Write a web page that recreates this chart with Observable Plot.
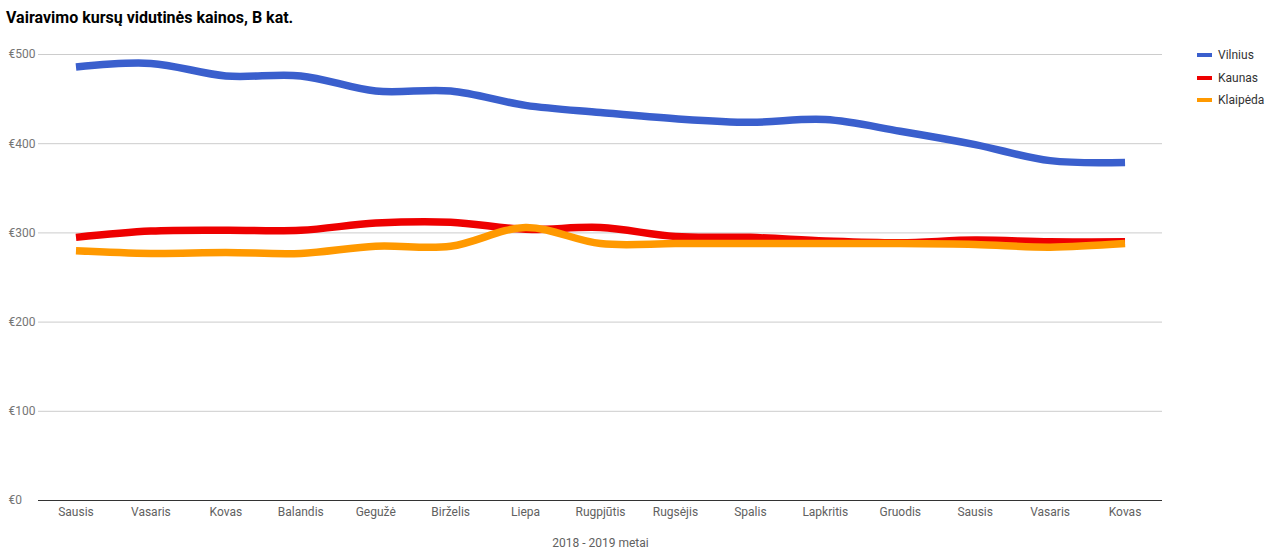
<!DOCTYPE html>
<html>
<head>
<meta charset="utf-8">
<script src="https://cdn.jsdelivr.net/npm/d3@7"></script>
<script src="https://cdn.jsdelivr.net/npm/@observablehq/plot@0.6"></script>
<style>
  body { margin: 0; background: #fff; font-family: Roboto, "Noto Sans", sans-serif; }
  #wrap { position: relative; width: 1269px; height: 555px; }
  #title { position: absolute; left: 6px; top: 8px; font-size: 16px; font-weight: bold; color: #000; white-space: nowrap; }
  #legend { position: absolute; left: 1197px; top: 44px; font-size: 12px; color: #333; }
  #legend .item { display: flex; align-items: center; height: 22.5px; }
  #legend .sw { width: 15px; height: 4px; margin-right: 6px; }
</style>
</head>
<body>
<div id="wrap">
  <div id="chart"></div>
  <div id="title">Vairavimo kursų vidutinės kainos, B kat.</div>
  <div id="legend"></div>
</div>
<script>
const months = ["Sausis","Vasaris","Kovas","Balandis","Gegužė","Birželis","Liepa","Rugpjūtis","Rugsėjis","Spalis","Lapkritis","Gruodis","Sausis","Vasaris","Kovas"];
const seriesNames = ["Vilnius", "Kaunas", "Klaipėda"];
const seriesColors = ["#3a5fcd", "#ee0000", "#ff9900"];
const vilnius  = [486, 490, 476, 476, 459, 459, 443, 435, 428, 424, 427, 414, 399, 381, 379];
const kaunas   = [295, 302, 303, 303, 311, 312, 304, 306, 296, 295, 291, 289, 292, 290, 290];
const klaipeda = [280, 277, 278, 277, 285, 285, 306, 288, 288, 288, 288, 288, 287, 284, 288];
const yTicks = [0, 100, 200, 300, 400, 500];
const xTitle = "2018 - 2019 metai";

const seriesValues = [vilnius, kaunas, klaipeda];
const data = [];
seriesNames.forEach((name, s) => {
  seriesValues[s].forEach((v, i) => data.push({series: name, i, value: v}));
});

const chart = Plot.plot({
  width: 1269,
  height: 555,
  marginLeft: 38,
  marginRight: 107,
  marginTop: 54,
  marginBottom: 55,
  style: { fontFamily: "Roboto, sans-serif", fontSize: "12px", background: "#fff" },
  x: { type: "point", domain: d3.range(months.length), padding: 0.5, round: false },
  y: { domain: [0, 500] },
  color: { domain: seriesNames, range: seriesColors },
  marks: [
    Plot.gridY(yTicks, { stroke: "#cccccc", strokeOpacity: 1 }),
    Plot.axisY(yTicks, {
      tickSize: 0, tickPadding: 0, textAnchor: "start", dx: -30,
      tickFormat: d => "€" + d, fill: "#757575", label: null
    }),
    Plot.axisX({
      tickSize: 0, tickPadding: 7, tickFormat: i => months[i], fill: "#616161",
      label: xTitle, labelAnchor: "center", labelOffset: 46, labelArrow: "none"
    }),
    Plot.ruleY([0], { stroke: "#333333", strokeWidth: 1 }),
    Plot.line(data, {
      x: "i", y: "value", z: "series", stroke: "series",
      strokeWidth: 7.5, curve: "catmull-rom", strokeLinecap: "butt", strokeLinejoin: "round"
    })
  ]
});
document.getElementById("chart").appendChild(chart);

const legend = document.getElementById("legend");
seriesNames.forEach((name, s) => {
  const item = document.createElement("div");
  item.className = "item";
  const sw = document.createElement("div");
  sw.className = "sw";
  sw.style.background = seriesColors[s];
  const t = document.createElement("span");
  t.textContent = name;
  item.appendChild(sw);
  item.appendChild(t);
  legend.appendChild(item);
});
</script>
</body>
</html>
